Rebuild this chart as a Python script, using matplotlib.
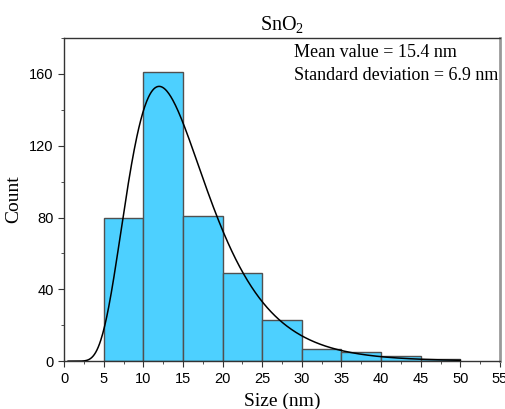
import numpy as np
import matplotlib
matplotlib.use("Agg")
import matplotlib.pyplot as plt
from matplotlib.ticker import MultipleLocator

# histogram bins and counts
bin_edges = [5, 10, 15, 20, 25, 30, 35, 40, 45, 50]
counts = [80, 161, 81, 49, 23, 7, 5, 3, 1]

# lognormal fit parameters (Origin form), estimated from the curve
fit_xc = 14.3
fit_w = 0.42
fit_A = 2110

xticks = [0, 5, 10, 15, 20, 25, 30, 35, 40, 45, 50, 55]
yticks = [0, 40, 80, 120, 160]

serif = "Liberation Serif"
plt.rcParams["mathtext.fontset"] = "custom"
plt.rcParams["mathtext.rm"] = serif
plt.rcParams["mathtext.it"] = serif + ":italic"

fig = plt.figure(figsize=(5.05, 4.09), dpi=100)
ax = fig.add_axes([0.127, 0.117, 0.863, 0.790])

left = bin_edges[:-1]
widths = np.diff(bin_edges)
ax.bar(left, counts, width=widths, align="edge", color="#4dd0ff",
       edgecolor="#505050", linewidth=1.0, zorder=2)

x = np.linspace(0.5, 50, 600)
y = fit_A / (np.sqrt(2 * np.pi) * fit_w * x) * np.exp(-np.log(x / fit_xc) ** 2 / (2 * fit_w ** 2))
ax.plot(x, y, color="black", linewidth=1.1, zorder=3)

ax.set_xlim(0, 55)
ax.set_ylim(0, 180)
ax.set_xticks(xticks)
ax.set_yticks(yticks)
ax.xaxis.set_minor_locator(MultipleLocator(2.5))
ax.yaxis.set_minor_locator(MultipleLocator(20))
ax.tick_params(which="both", direction="out", color="#333333", labelsize=10.5)
ax.tick_params(which="major", length=4)
ax.tick_params(which="minor", length=2.5)
for lab in ax.get_xticklabels() + ax.get_yticklabels():
    lab.set_fontfamily("Liberation Sans")

for s in ["left", "bottom", "top"]:
    ax.spines[s].set_color("#333333")
    ax.spines[s].set_linewidth(1.0)
ax.spines["right"].set_color("#999999")
ax.spines["right"].set_linewidth(2.0)

ax.set_xlabel("Size (nm)", fontfamily=serif, fontsize=14, labelpad=5)
ax.set_ylabel("Count", fontfamily=serif, fontsize=14, labelpad=5)
ax.set_title("SnO$_\\mathrm{2}$", fontfamily=serif, fontsize=14.5, pad=6)

ax.text(0.528, 0.98, "Mean value = 15.4 nm\nStandard deviation = 6.9 nm",
        transform=ax.transAxes, ha="left", va="top", fontfamily=serif,
        fontsize=13, linespacing=1.4)

fig.savefig("out.png", dpi=100)
